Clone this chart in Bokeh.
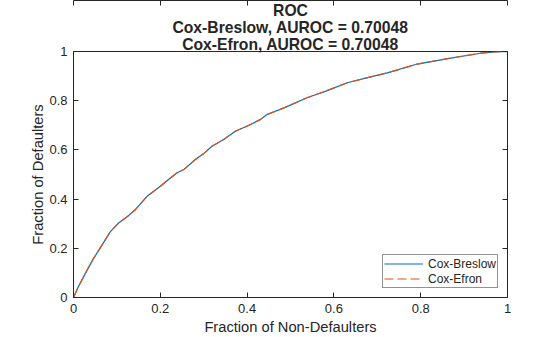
from bokeh.plotting import figure
from bokeh.models import Range1d, LinearAxis, FixedTicker, CustomJSTickFormatter, Legend, LegendItem, Title
from bokeh.embed import file_html
from bokeh.resources import INLINE

# Data
fpr = [0, 0.01, 0.028, 0.045, 0.062, 0.085, 0.104, 0.125, 0.143, 0.170, 0.2, 0.224, 0.239,
       0.254, 0.28, 0.30, 0.319, 0.346, 0.373, 0.408, 0.431, 0.446, 0.485, 0.538, 0.58,
       0.631, 0.68, 0.723, 0.792, 0.869, 0.938, 0.97, 1.0]
tpr_breslow = [0, 0.04, 0.10, 0.155, 0.203, 0.268, 0.303, 0.33, 0.358, 0.412, 0.452, 0.487,
               0.507, 0.52, 0.56, 0.585, 0.615, 0.642, 0.676, 0.703, 0.724, 0.744, 0.771,
               0.812, 0.838, 0.873, 0.895, 0.913, 0.949, 0.973, 0.993, 0.998, 1.0]
tpr_efron = list(tpr_breslow)
ticks = [0, 0.2, 0.4, 0.6, 0.8, 1]
title_lines = ["ROC", "Cox-Breslow, AUROC = 0.70048", "Cox-Efron, AUROC = 0.70048"]

FONT = "Arial, Liberation Sans, sans-serif"
AX = "#262626"

p = figure(width=560, height=337, output_backend="svg", toolbar_location=None,
           x_range=Range1d(0, 1), y_range=Range1d(0, 1),
           min_border_left=73, min_border_right=53, min_border_top=0, min_border_bottom=39)
p.title.visible = False

standoffs = [-2, -2, -2.5]  # for lines top..bottom
for line, so in reversed(list(zip(title_lines, standoffs))):
    t = Title(text=line, align="center", text_font=FONT, text_font_size="15.7px",
              text_font_style="bold", text_color=AX, standoff=so, offset=0)
    p.add_layout(t, "above")

p.grid.visible = False
p.outline_line_color = AX
p.outline_line_width = 1

fmt = CustomJSTickFormatter(code="return String(Math.round(tick*10)/10);")
blank = CustomJSTickFormatter(code="return '';")

for ax in [p.xaxis[0], p.yaxis[0]]:
    ax.ticker = FixedTicker(ticks=ticks)
    ax.formatter = fmt
    ax.major_tick_in = 5
    ax.major_tick_out = 0
    ax.minor_tick_line_color = None
    ax.axis_line_color = AX
    ax.major_tick_line_color = AX
    ax.major_label_text_font = FONT
    ax.major_label_text_font_size = "13px"
    ax.major_label_text_color = AX
    ax.axis_label_text_font = FONT
    ax.axis_label_text_font_size = "14.7px"
    ax.axis_label_text_font_style = "normal"
    ax.axis_label_text_color = AX
    ax.major_label_standoff = 6

p.xaxis[0].axis_label = "Fraction of Non-Defaulters"
p.yaxis[0].axis_label = "Fraction of Defaulters"
p.xaxis[0].axis_label_standoff = 3
p.yaxis[0].axis_label_standoff = 0

for loc in ["above", "right"]:
    a = LinearAxis(ticker=FixedTicker(ticks=ticks), formatter=blank, major_tick_in=5, major_tick_out=0,
                   minor_tick_line_color=None, axis_line_color=AX, major_tick_line_color=AX,
                   major_label_standoff=0)
    p.add_layout(a, loc)

r1 = p.line(fpr, tpr_breslow, line_color="#0072BD", line_width=1.2)
r2 = p.line(fpr, tpr_efron, line_color="#D95319", line_width=1.2, line_dash="9 4")

legend = Legend(items=[LegendItem(label="Cox-Breslow", renderers=[r1]),
                       LegendItem(label="Cox-Efron", renderers=[r2])],
                location="bottom_right")
legend.margin = 9
legend.padding = 1
legend.spacing = 0
legend.glyph_width = 39
legend.glyph_height = 15
legend.label_height = 13
legend.label_standoff = 5
legend.label_text_font = FONT
legend.label_text_font_size = "12px"
legend.label_text_color = AX
legend.border_line_color = AX
legend.border_line_width = 1
legend.background_fill_color = "white"
legend.background_fill_alpha = 1
p.add_layout(legend)

open("out.html", "w").write(file_html(p, INLINE))
